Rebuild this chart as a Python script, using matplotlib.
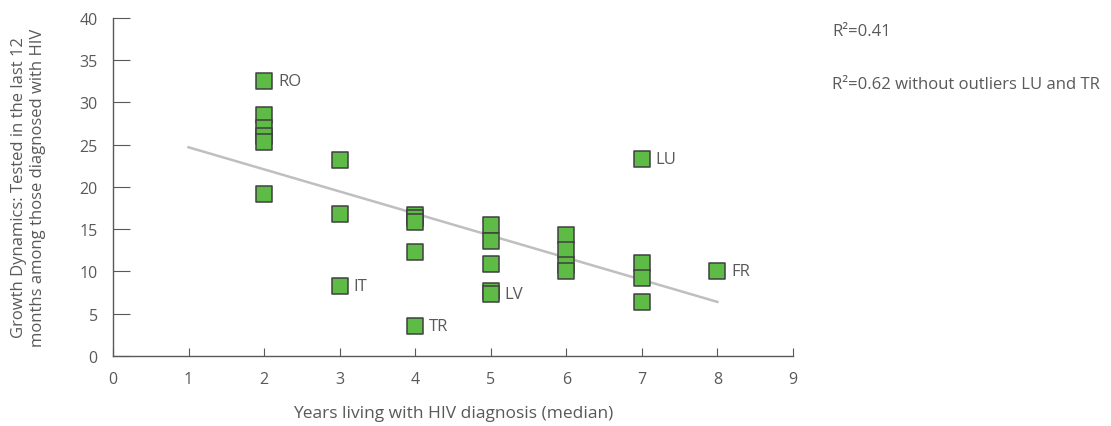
import numpy as np
import matplotlib.pyplot as plt

plt.rcParams['font.family'] = ['Open Sans', 'DejaVu Sans']

# Данные
years = [2, 2, 2, 2, 2, 2,
         3, 3, 3,
         4, 4, 4, 4, 4,
         5, 5, 5, 5, 5,
         6, 6, 6, 6,
         7, 7, 7, 7,
         8]
tested = [32.5, 28.5, 27.0, 26.0, 25.3, 19.2,
          23.2, 16.8, 8.3,
          16.7, 16.3, 15.9, 12.3, 3.6,
          15.5, 13.6, 10.9, 7.7, 7.3,
          14.3, 12.6, 10.8, 10.0,
          23.3, 11.0, 9.2, 6.4,
          10.0]

# Подписи стран
label_names = ['RO', 'IT', 'TR', 'LV', 'LU', 'FR']
label_x = [2, 3, 4, 5, 7, 8]
label_y = [32.5, 8.3, 3.6, 7.3, 23.3, 10.0]

# Линия тренда (концы)
trend_x = [1, 8]
trend_y = [24.7, 6.4]

r2_texts = ['R²=0.41', 'R²=0.62 without outliers LU and TR']

txt_color = '#595959'
green = '#5dbb46'

fig = plt.figure(figsize=(11.11, 4.27), dpi=100)
ax = fig.add_axes([0.1017, 0.164, 0.612, 0.7915])

ax.plot(trend_x, trend_y, color='#bfbfbf', lw=1.8, zorder=2)
ax.scatter(years, tested, marker='s', s=130, facecolor=green,
           edgecolor='#404040', linewidth=1.1, zorder=3)

for name, x, y in zip(label_names, label_x, label_y):
    ax.annotate(name, (x, y), xytext=(10, 0), textcoords='offset points',
                ha='left', va='center', fontsize=12, color=txt_color)

ax.set_xlim(0, 9)
ax.set_ylim(0, 40)
ax.set_xticks(range(0, 10))
ax.set_yticks(range(0, 41, 5))

for side in ['top', 'right']:
    ax.spines[side].set_visible(False)
for side in ['left', 'bottom']:
    ax.spines[side].set_color('#595959')
    ax.spines[side].set_linewidth(1.0)

ax.tick_params(axis='x', direction='in', length=6, width=0.8, color='#595959',
               pad=11, labelsize=11.5, labelcolor=txt_color)
ax.tick_params(axis='y', direction='in', length=12, width=0.8, color='#595959',
               pad=11, labelsize=11.5, labelcolor=txt_color)

ax.set_xlabel('Years living with HIV diagnosis (median)', fontsize=12.5,
              color=txt_color)
ax.xaxis.set_label_coords(0.5, -0.145)
ax.set_ylabel('Growth Dynamics: Tested in the last 12\n'
              'months among those diagnosed with HIV', fontsize=12,
              color=txt_color, linespacing=1.25)
ax.yaxis.set_label_coords(-0.098, 0.5)

fig.text(0.749, 0.925, r2_texts[0], fontsize=12, color=txt_color, va='center')
fig.text(0.749, 0.800, r2_texts[1], fontsize=12, color=txt_color, va='center')

fig.savefig('out.png', dpi=100)
